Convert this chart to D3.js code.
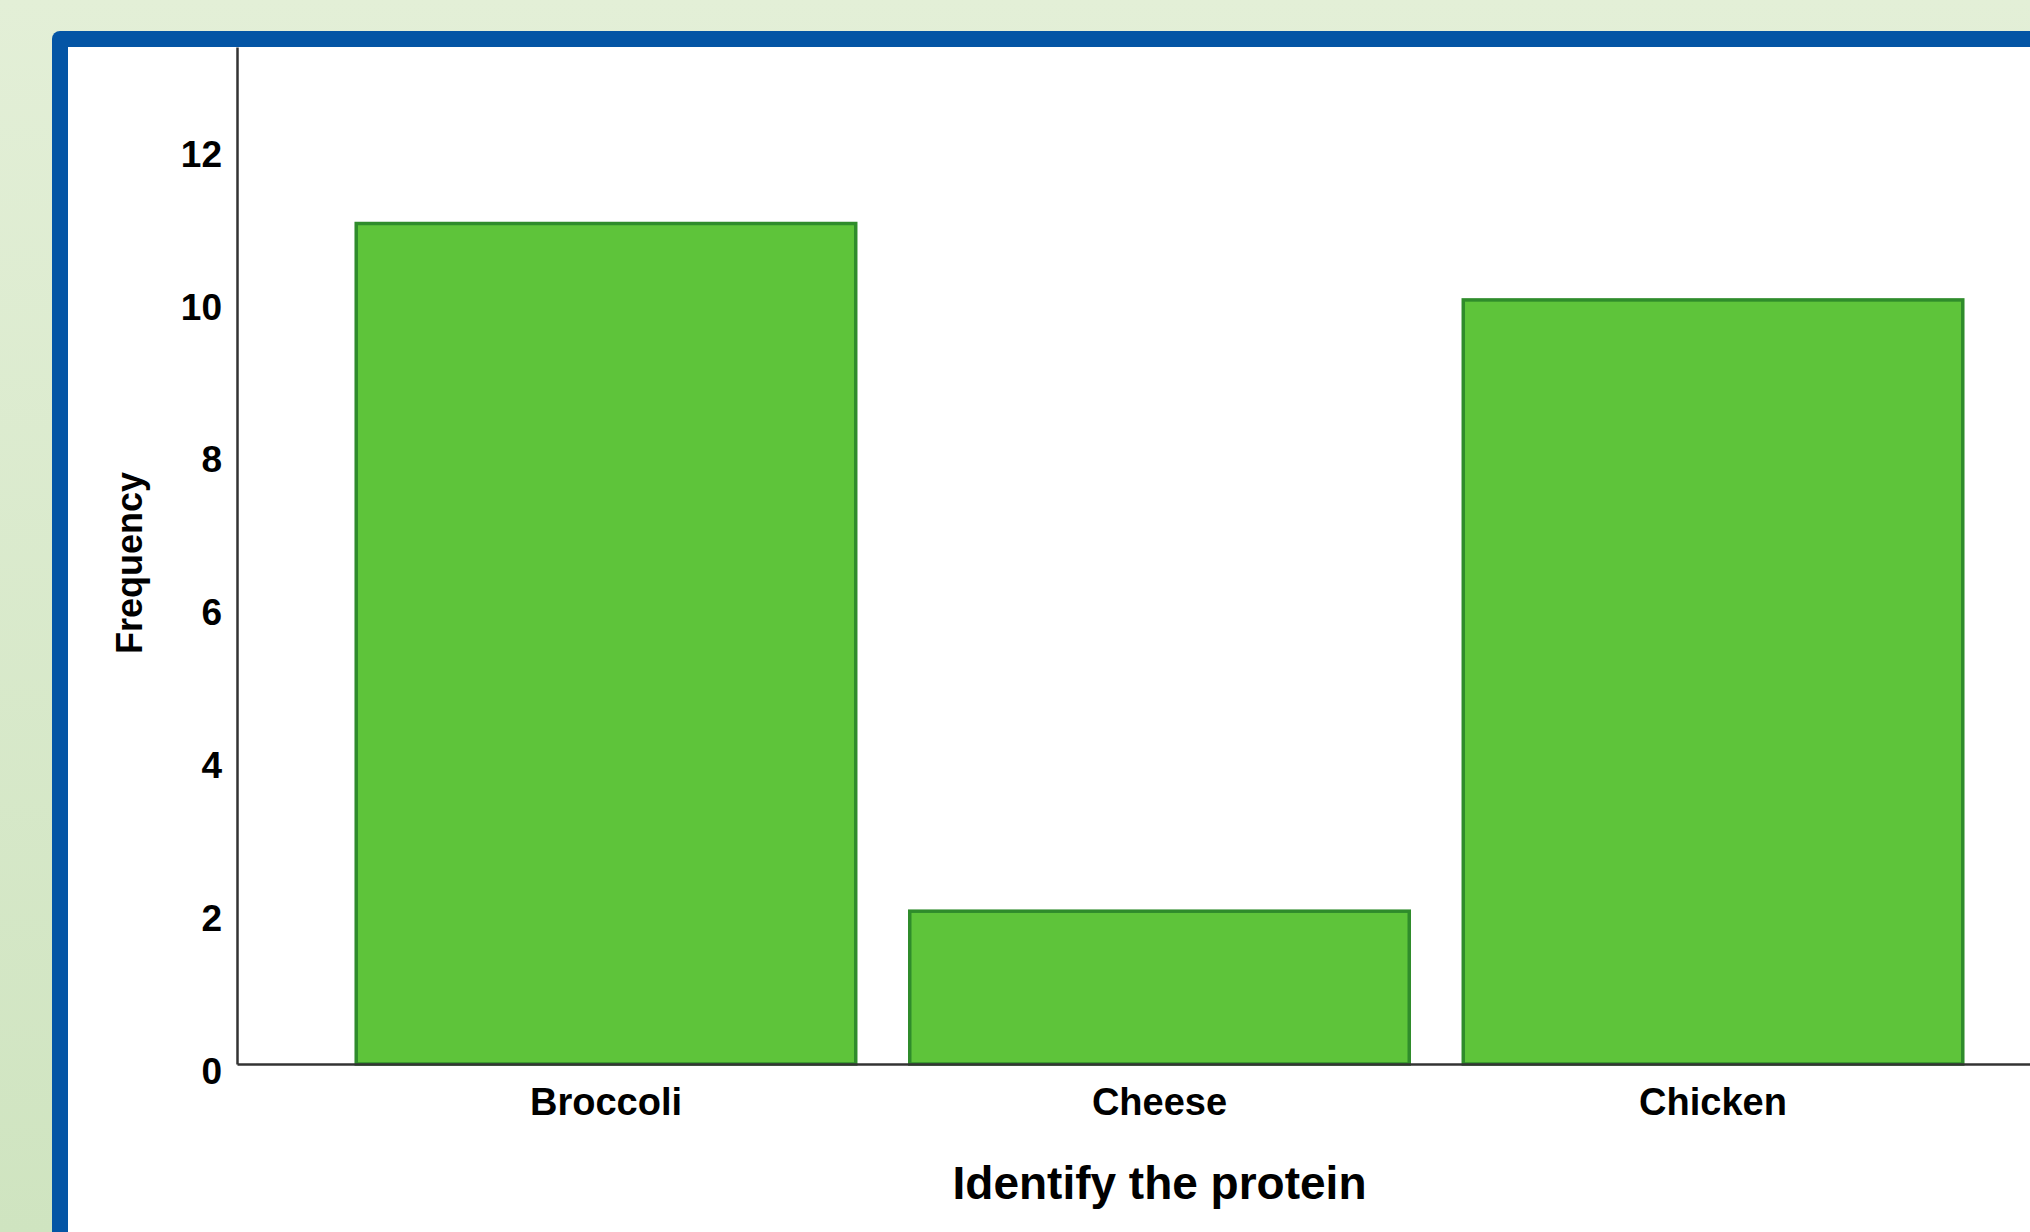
<!DOCTYPE html>
<html>
<head>
<meta charset="utf-8">
<script src="https://cdn.jsdelivr.net/npm/d3@7"></script>
<style>
  body { margin: 0; overflow: hidden; }
  text { font-family: "Liberation Sans", Arial, sans-serif; fill: #000; }
</style>
</head>
<body>
<svg id="chart" width="2030" height="1232"></svg>
<script>
// chart data
const categories = ["Broccoli", "Cheese", "Chicken"];
const frequencies = [11, 2, 10];
const yTicks = [0, 2, 4, 6, 8, 10, 12];
const xTitle = "Identify the protein";
const yTitle = "Frequency";

const WIDTH = 2030, HEIGHT = 1232;
const svg = d3.select("#chart");

// slide background
const grad = svg.append("defs").append("linearGradient")
  .attr("id", "bg").attr("x1", 0).attr("y1", 0).attr("x2", 0).attr("y2", 1);
grad.append("stop").attr("offset", "0%").attr("stop-color", "#e3efd7");
grad.append("stop").attr("offset", "100%").attr("stop-color", "#cfe4c0");
svg.append("rect").attr("width", WIDTH).attr("height", HEIGHT).attr("fill", "url(#bg)");

// blue frame + white panel
svg.append("rect")
  .attr("x", 52).attr("y", 31).attr("width", 2200).attr("height", 1400)
  .attr("rx", 8).attr("fill", "#0455a5");
svg.append("rect")
  .attr("x", 68).attr("y", 47).attr("width", 2200).attr("height", 1400)
  .attr("fill", "#fff");

const plot = { left: 237, right: 2082, top: 47, bottom: 1064 };

const x = d3.scaleBand()
  .domain(categories)
  .range([plot.left, plot.right])
  .paddingInner(0.0976)
  .paddingOuter(0.2154);

const y = d3.scaleLinear()
  .domain([0, 13.31])
  .range([plot.bottom, plot.top]);

// bars
svg.append("g")
  .selectAll("rect")
  .data(frequencies)
  .join("rect")
  .attr("x", (d, i) => x(categories[i]))
  .attr("y", d => y(d))
  .attr("width", x.bandwidth())
  .attr("height", d => y(0) - y(d))
  .attr("fill", "#5ec43a")
  .attr("stroke", "#2f8c2b")
  .attr("stroke-width", 3.5);

// y axis
const yAxis = svg.append("g")
  .attr("transform", `translate(${plot.left},0)`)
  .call(d3.axisLeft(y).tickValues(yTicks).tickSize(0).tickPadding(15));
yAxis.select(".domain").attr("stroke", "#333").attr("stroke-width", 2.5);
yAxis.selectAll("text")
  .attr("dy", "0.52em")
  .style("font-size", "37px")
  .style("font-weight", "bold");

// x axis
const xAxis = svg.append("g")
  .attr("transform", `translate(0,${plot.bottom})`)
  .call(d3.axisBottom(x).tickSize(0));
xAxis.select(".domain").attr("stroke", "#333").attr("stroke-width", 2.5);
xAxis.selectAll("text")
  .attr("y", 51)
  .attr("dy", 0)
  .style("font-size", "38px")
  .style("font-weight", "bold");

// axis titles
svg.append("text")
  .attr("x", (plot.left + plot.right) / 2)
  .attr("y", 1199)
  .attr("text-anchor", "middle")
  .style("font-size", "46px")
  .style("font-weight", "bold")
  .text(xTitle);

svg.append("text")
  .attr("transform", "translate(142,563) rotate(-90)")
  .attr("text-anchor", "middle")
  .style("font-size", "36px")
  .style("font-weight", "bold")
  .text(yTitle);
</script>
</body>
</html>
